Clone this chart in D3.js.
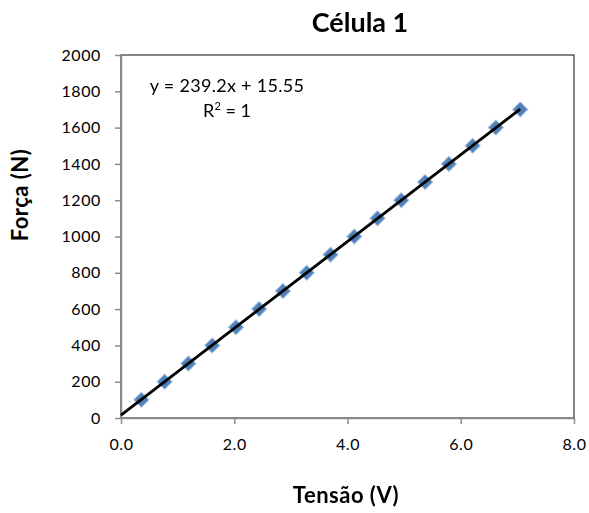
<!DOCTYPE html>
<html>
<head>
<meta charset="utf-8">
<script src="https://cdn.jsdelivr.net/npm/d3@7"></script>
<style>
  body { margin: 0; background: #fff; }
  text { font-family: Lato, "Open Sans", sans-serif; fill: #000; }
</style>
</head>
<body>
<div id="chart"></div>
<script>
// data
var tensao = [0.36, 0.77, 1.19, 1.61, 2.03, 2.44, 2.86, 3.28, 3.70, 4.12, 4.53, 4.95, 5.37, 5.79, 6.21, 6.62, 7.05];
var forca = [100, 200, 300, 400, 500, 600, 700, 800, 900, 1000, 1100, 1200, 1300, 1400, 1500, 1600, 1700];
var xTicks = [0, 2, 4, 6, 8];
var yTicks = [0, 200, 400, 600, 800, 1000, 1200, 1400, 1600, 1800, 2000];
var slope = 239.2, intercept = 15.55;

var width = 589, height = 513;
var margin = { top: 55, right: 15, bottom: 95, left: 121 };

var svg = d3.select("#chart").append("svg")
  .attr("width", width)
  .attr("height", height);

// soft edge on the markers
svg.append("defs").append("filter")
  .attr("id", "soft")
  .append("feGaussianBlur").attr("stdDeviation", 0.7);

var x = d3.scaleLinear().domain([0, 8]).range([margin.left, width - margin.right]);
var y = d3.scaleLinear().domain([0, 2000]).range([height - margin.bottom, margin.top]);

// plot border (top and right darker)
svg.append("rect")
  .attr("x", x(0)).attr("y", y(2000))
  .attr("width", x(8) - x(0)).attr("height", y(0) - y(2000))
  .attr("fill", "none").attr("stroke", "#333").attr("stroke-width", 1.2);

// axes
var xAxis = svg.append("g")
  .attr("transform", "translate(0," + y(0) + ")")
  .call(d3.axisBottom(x).tickValues(xTicks).tickSize(6).tickSizeOuter(0).tickFormat(d3.format(".1f")));
var yAxis = svg.append("g")
  .attr("transform", "translate(" + x(0) + ",0)")
  .call(d3.axisLeft(y).tickValues(yTicks).tickSize(6).tickSizeOuter(0).tickFormat(d3.format("d")));

[xAxis, yAxis].forEach(function (a) {
  a.selectAll("path, line").attr("stroke", "#8c8c8c").attr("stroke-width", 1.5);
  a.selectAll("text").style("font-size", "16px").style("letter-spacing", "0.6px").attr("fill", "#000");
});
xAxis.selectAll("text").attr("dy", "1.45em");
yAxis.selectAll("text").attr("x", -20);

// markers
svg.append("g").attr("filter", "url(#soft)").selectAll("path")
  .data(tensao)
  .enter().append("path")
  .attr("d", d3.symbol().type(d3.symbolDiamond2).size(120))
  .attr("transform", function (d, i) { return "translate(" + x(d) + "," + y(forca[i]) + ")"; })
  .attr("fill", "#4F81BD")
  .attr("stroke", "#4F81BD")
  .attr("stroke-opacity", 0.5)
  .attr("stroke-width", 2);

// trendline
var xEnd = d3.max(tensao);
svg.append("line")
  .attr("x1", x(0)).attr("y1", y(intercept))
  .attr("x2", x(xEnd)).attr("y2", y(slope * xEnd + intercept))
  .attr("stroke", "#000").attr("stroke-width", 2.8);

// equation
svg.append("text")
  .attr("x", 227).attr("y", 92)
  .attr("text-anchor", "middle")
  .style("font-size", "18px")
  .style("letter-spacing", "0.3px")
  .text("y = " + slope + "x + " + intercept);
var r2 = svg.append("text")
  .attr("x", 227).attr("y", 117)
  .attr("text-anchor", "middle")
  .style("font-size", "18px");
r2.append("tspan").text("R");
r2.append("tspan").attr("dy", -7).style("font-size", "11px").text("2");
r2.append("tspan").attr("dy", 7).text(" = 1");

// title and axis labels
svg.append("text")
  .attr("x", 360).attr("y", 32)
  .attr("text-anchor", "middle")
  .style("font-size", "27px").style("font-weight", "bold")
  .text("Célula 1");
svg.append("text")
  .attr("x", 346).attr("y", 503)
  .attr("text-anchor", "middle")
  .style("font-size", "22px").style("font-weight", "bold")
  .style("letter-spacing", "0.5px")
  .text("Tensão (V)");
svg.append("text")
  .attr("transform", "translate(28,195) rotate(-90)")
  .attr("text-anchor", "middle")
  .style("font-size", "22px").style("font-weight", "bold")
  .style("letter-spacing", "0.5px")
  .text("Força (N)");
</script>
</body>
</html>
